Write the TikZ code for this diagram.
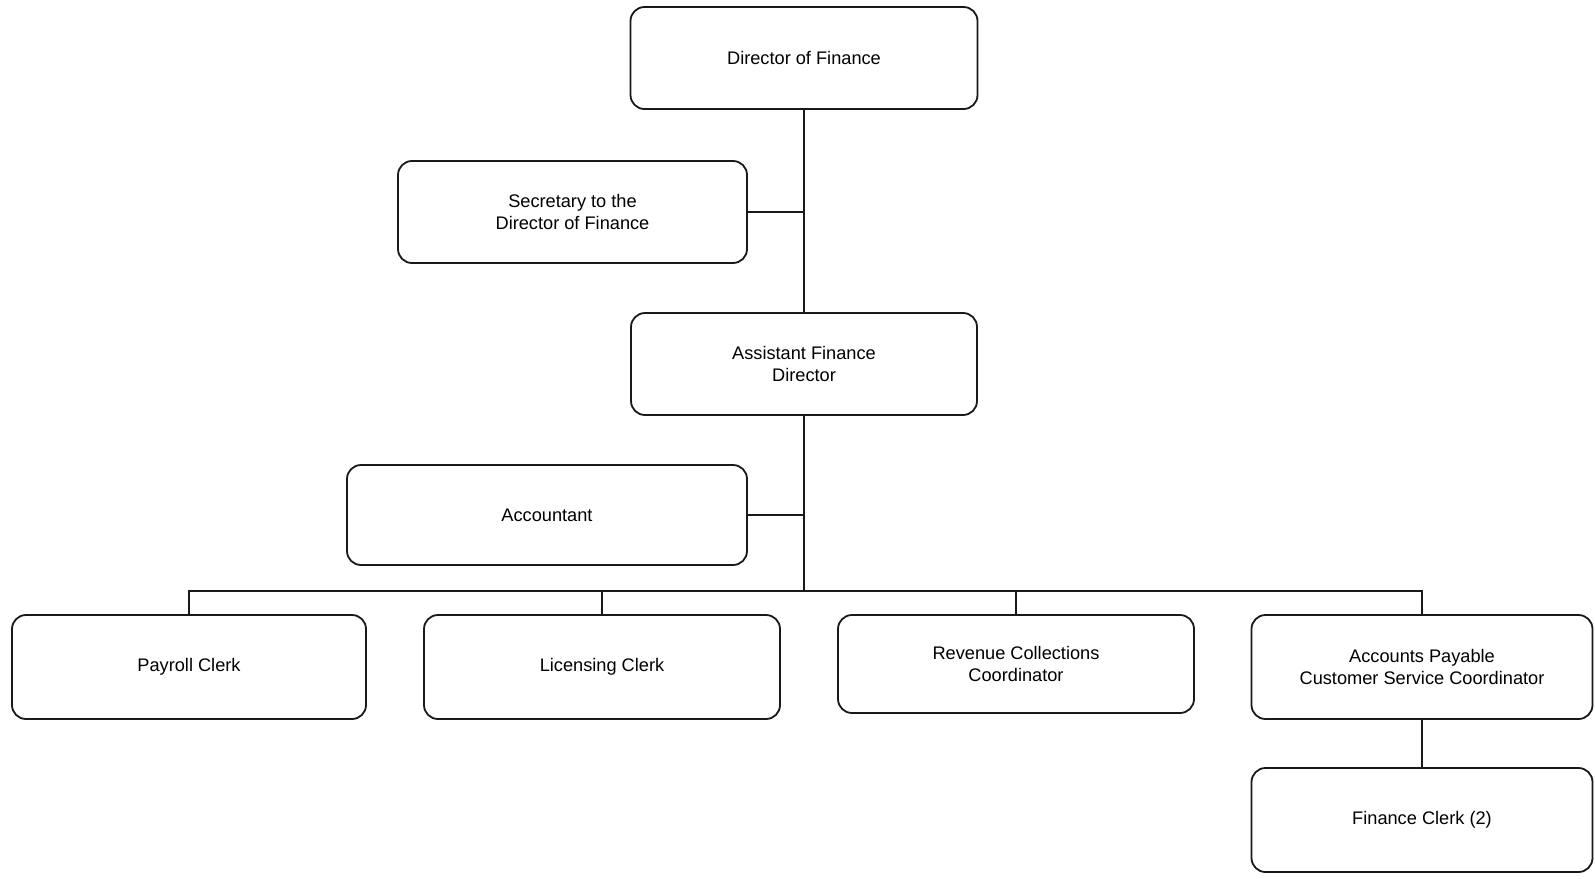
\documentclass[tikz,border=0pt]{standalone}
\usepackage{fontspec}
\setmainfont{Liberation Sans}
\begin{document}
\begin{tikzpicture}[x=1pt,y=-1pt,
  post/.style={draw=black!90, line width=1.8pt, rounded corners=14pt,
    align=center, inner sep=0pt, font=\fontsize{18.2}{22.5}\selectfont},
  link/.style={draw=black!90, line width=1.9pt}]
\useasboundingbox (0,0) rectangle (1595,878);
% positions
\node[post, minimum width=347pt, minimum height=102pt] (dir) at (804,58) {Director of Finance};
\node[post, minimum width=349pt, minimum height=102pt] (sec) at (572.5,212) {Secretary to the\\Director of Finance};
\node[post, minimum width=346pt, minimum height=102pt] (afd) at (804,364) {Assistant Finance\\Director};
\node[post, minimum width=400pt, minimum height=100pt] (acc) at (547,515) {Accountant};
\node[post, minimum width=354pt, minimum height=104pt] (pay) at (189,667) {Payroll Clerk};
\node[post, minimum width=356pt, minimum height=104pt] (lic) at (602,667) {Licensing Clerk};
\node[post, minimum width=356pt, minimum height=98pt] (rev) at (1016,664) {Revenue Collections\\Coordinator};
\node[post, minimum width=341pt, minimum height=104pt] (ap) at (1422,667) {Accounts Payable\\Customer Service Coordinator};
\node[post, minimum width=341pt, minimum height=104pt] (fc) at (1422,820) {Finance Clerk (2)};
% connectors
\coordinate (bus) at (804,591);
\draw[link] (dir.south) -- (afd.north);
\draw[link] (sec.east) -- (sec.east -| dir.south);
\draw[link] (afd.south) -- (bus);
\draw[link] (acc.east) -- (acc.east -| bus);
\draw[link] (pay.north) -- (pay.north |- bus) -- (ap.north |- bus) -- (ap.north);
\draw[link] (lic.north) -- (lic.north |- bus);
\draw[link] (rev.north) -- (rev.north |- bus);
\draw[link] (ap.south) -- (fc.north);
\end{tikzpicture}
\end{document}
